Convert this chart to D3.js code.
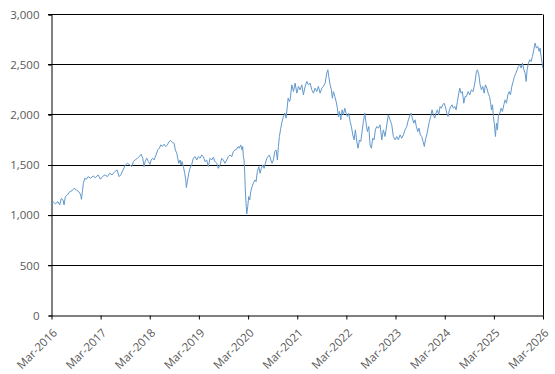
<!DOCTYPE html>
<html><head><meta charset="utf-8">
<script src="https://cdn.jsdelivr.net/npm/d3@7"></script>
<style>
html,body{margin:0;padding:0;background:#fff;}
svg{display:block;}
</style></head>
<body>
<svg id="chart" width="555" height="374"></svg>
<script>
// Time positions as decimal years
const years = [
2016.164,2016.205,2016.251,2016.306,2016.341,2016.374,2016.408,2016.429,2016.455,2016.496,2016.544,2016.591,2016.632,2016.679,2016.728,2016.768,2016.781,2016.801,2016.821,2016.850,2016.882,2016.917,2016.972,2017.019,2017.065,2017.120,2017.167,2017.208,2017.257,2017.310,2017.358,2017.405,2017.460,2017.507,2017.548,2017.582,2017.629,2017.676,2017.716,2017.765,
2017.806,2017.839,2017.873,2017.920,2017.961,2017.995,2018.030,2018.056,2018.077,2018.111,2018.144,2018.178,2018.199,2018.233,2018.260,2018.300,2018.335,2018.368,2018.396,2018.429,2018.463,2018.498,2018.530,2018.565,2018.599,2018.632,2018.667,2018.693,2018.722,2018.742,2018.762,2018.789,2018.809,2018.829,2018.856,2018.884,2018.905,2018.917,2018.937,2018.966,2018.992,2019.027,2019.059,2019.094,2019.128,2019.161,2019.196,2019.230,2019.263,2019.297,2019.332,2019.364,
2019.399,2019.434,2019.466,2019.501,2019.535,2019.568,2019.603,2019.637,2019.670,2019.704,2019.739,2019.771,2019.806,2019.841,2019.873,2019.908,2019.942,2019.975,2019.995,2020.024,2020.050,2020.064,2020.077,2020.091,2020.105,2020.117,2020.132,2020.146,2020.166,2020.186,2020.207,2020.227,2020.254,2020.280,2020.309,2020.335,2020.361,2020.390,2020.416,2020.443,2020.471,2020.498,2020.524,2020.553,2020.579,2020.606,2020.634,2020.660,2020.687,2020.715,2020.742,2020.768,2020.789,2020.809,2020.837,2020.864,2020.890,2020.919,2020.945,2020.966,2020.986,2021.012,
2021.027,2021.061,2021.094,2021.128,2021.163,2021.196,2021.230,2021.265,2021.297,2021.332,2021.367,2021.399,2021.434,2021.468,2021.501,2021.535,2021.570,2021.602,2021.637,2021.672,2021.704,2021.739,2021.773,2021.794,2021.814,2021.841,2021.867,2021.887,2021.908,2021.936,2021.963,2021.989,2022.009,2022.030,2022.058,2022.085,2022.111,2022.140,2022.166,2022.193,2022.221,2022.248,2022.274,2022.302,2022.329,2022.355,2022.384,2022.410,2022.437,2022.465,2022.492,2022.518,2022.547,2022.573,2022.600,2022.628,2022.654,2022.681,2022.709,2022.736,2022.762,2022.791,2022.823,2022.858,
2022.892,2022.925,2022.960,2022.994,2023.027,2023.061,2023.096,2023.128,2023.163,2023.198,2023.230,2023.265,2023.299,2023.332,2023.367,2023.401,2023.434,2023.468,2023.489,2023.515,2023.544,2023.570,2023.596,2023.625,2023.651,2023.678,2023.706,2023.733,2023.759,2023.780,2023.808,2023.834,2023.861,2023.889,2023.916,2023.942,2023.971,2023.997,2024.024,2024.052,2024.079,2024.105,2024.134,2024.160,2024.186,2024.215,2024.241,2024.268,2024.296,2024.323,2024.349,2024.378,2024.404,2024.431,2024.459,2024.479,2024.506,2024.532,2024.561,2024.587,
2024.614,2024.648,2024.683,2024.715,2024.750,2024.785,2024.817,2024.838,2024.866,2024.892,2024.919,2024.947,2024.974,2025.000,2025.029,2025.055,2025.082,2025.102,2025.122,2025.143,2025.163,2025.183,2025.204,2025.224,2025.244,2025.265,2025.293,2025.320,2025.346,2025.375,2025.401,2025.428,2025.456,2025.483,2025.509,2025.537,2025.564,2025.590,2025.619,2025.645,2025.672,2025.700,2025.727,2025.753,2025.782,2025.808,2025.828,2025.849,2025.875,2025.904,2025.930,2025.957,2025.985,2026.011,2026.038,2026.066,2026.093,2026.113,2026.133,2026.154,2026.168
];
const values = [
1097,1130,1107,1130,1097,1163,1147,1097,1180,1196,1229,1239,1263,1246,1229,1196,1153,1229,1313,1363,1353,1379,1363,1386,1369,1396,1353,1379,1396,1379,1413,1396,1429,1446,1379,1396,1446,1496,1512,1496,
1479,1529,1545,1562,1579,1602,1562,1479,1529,1562,1529,1502,1545,1562,1545,1595,1645,1662,1695,1679,1702,1679,1695,1728,1738,1721,1712,1645,1612,1562,1512,1545,1496,1529,1479,1413,1346,1270,1329,1413,1462,1502,1562,1579,1545,1579,1562,1595,1579,1529,1545,1479,
1562,1545,1572,1529,1512,1462,1496,1562,1545,1512,1545,1579,1595,1579,1629,1645,1652,1679,1662,1695,1645,1679,1579,1545,1413,1246,1113,1007,1080,1180,1147,1229,1279,1313,1346,1329,1429,1479,1413,1462,1496,1462,1512,1562,1579,1595,1545,1512,1545,1629,1645,1545,1679,1779,1862,1929,1978,2012,1962,2061,2161,2128,
2144,2294,2227,2311,2211,2278,2244,2294,2194,2278,2328,2294,2311,2244,2211,2261,2227,2278,2211,2261,2278,2311,2410,2444,2377,2294,2244,2161,2227,2178,2128,2061,1978,2028,1945,2045,1995,2061,2012,1978,2012,1929,1879,1795,1745,1845,1729,1662,1745,1729,1828,1929,2012,1912,1828,1879,1695,1662,1762,1745,1845,1879,1862,1895,
1745,1845,1779,1895,1995,1945,1895,1779,1745,1779,1745,1795,1762,1795,1845,1879,1945,1995,2012,1962,1912,1945,1879,1828,1862,1795,1779,1729,1679,1745,1795,1862,1929,1978,2045,1995,1962,2012,2045,1995,2078,2061,2095,2111,2078,2012,1978,2045,2078,2095,2061,2078,2045,2128,2211,2261,2211,2227,2111,2178,
2178,2227,2194,2244,2227,2311,2428,2444,2394,2294,2244,2278,2211,2294,2261,2211,2178,2128,2045,2095,1978,1895,1779,1912,1845,1995,2012,2061,2028,2095,2144,2111,2194,2227,2194,2278,2328,2377,2410,2444,2478,2494,2461,2511,2444,2410,2328,2444,2511,2544,2527,2577,2644,2710,2660,2677,2627,2660,2577,2511,2461
];
const yTicks = [0,500,1000,1500,2000,2500,3000];
const xTickYears = [2016,2017,2018,2019,2020,2021,2022,2023,2024,2025,2026];

function decToDate(d){
  const yr = Math.floor(d);
  const start = Date.UTC(yr,0,1), end = Date.UTC(yr+1,0,1);
  return new Date(start + (d - yr) * (end - start));
}
const data = years.map((t,i)=>({date:decToDate(t), value:values[i]}));

const svg = d3.select("#chart");
const mLeft = 51, mRight = 542.5, mTop = 14, mBottom = 315;
const x = d3.scaleUtc().domain([new Date(Date.UTC(2016,2,1)), new Date(Date.UTC(2026,2,1))]).range([mLeft,mRight]);
const y = d3.scaleLinear().domain([0,3000]).range([mBottom, mTop]);

const font = "'Open Sans', sans-serif";
const textColor = "#595959";

// gridlines
svg.append("g").selectAll("line").data(yTicks.filter(v=>v>0)).join("line")
  .attr("x1", mLeft-3).attr("x2", mRight)
  .attr("y1", d=>Math.round(y(d))+0.5).attr("y2", d=>Math.round(y(d))+0.5)
  .attr("stroke","#000").attr("stroke-width",1);

// right border
svg.append("line").attr("x1", Math.round(mRight)+0.5).attr("x2", Math.round(mRight)+0.5)
  .attr("y1", Math.round(y(3000))+0.5).attr("y2", Math.round(y(0))+0.5)
  .attr("stroke","#000");

// y axis
const yAxis = d3.axisLeft(y).tickValues(yTicks).tickSize(3).tickPadding(9).tickFormat(d3.format(","));
const gy = svg.append("g").attr("transform", `translate(${mLeft+0.5},0.5)`).call(yAxis);
gy.select(".domain").attr("stroke","#000");
gy.selectAll(".tick line").attr("stroke","#000");
gy.selectAll("text").attr("fill", textColor).style("font-family", font).style("font-size","11.5px");

// x axis
const xTicks = xTickYears.map(yr=>new Date(Date.UTC(yr,2,1)));
const xAxis = d3.axisBottom(x).tickValues(xTicks).tickSize(4).tickSizeOuter(0).tickFormat(d3.utcFormat("Mar-%Y"));
const gx = svg.append("g").attr("transform", `translate(0.5,${Math.round(mBottom)+0.5})`).call(xAxis);
gx.select(".domain").attr("stroke","#000");
gx.selectAll(".tick line").attr("stroke","#000");
gx.selectAll("text")
  .attr("fill", textColor).style("font-family", font).style("font-size","11.5px")
  .attr("text-anchor","end")
  .attr("dx", null).attr("dy", null)
  .attr("y", 0)
  .attr("transform", "translate(6,18) rotate(-45)");

// line
const line = d3.line().x(d=>x(d.date)).y(d=>y(d.value));
svg.append("path").datum(data)
  .attr("fill","none").attr("stroke","#6299cc").attr("stroke-width",1)
  .attr("stroke-linejoin","round")
  .attr("d", line);
</script>
</body></html>
